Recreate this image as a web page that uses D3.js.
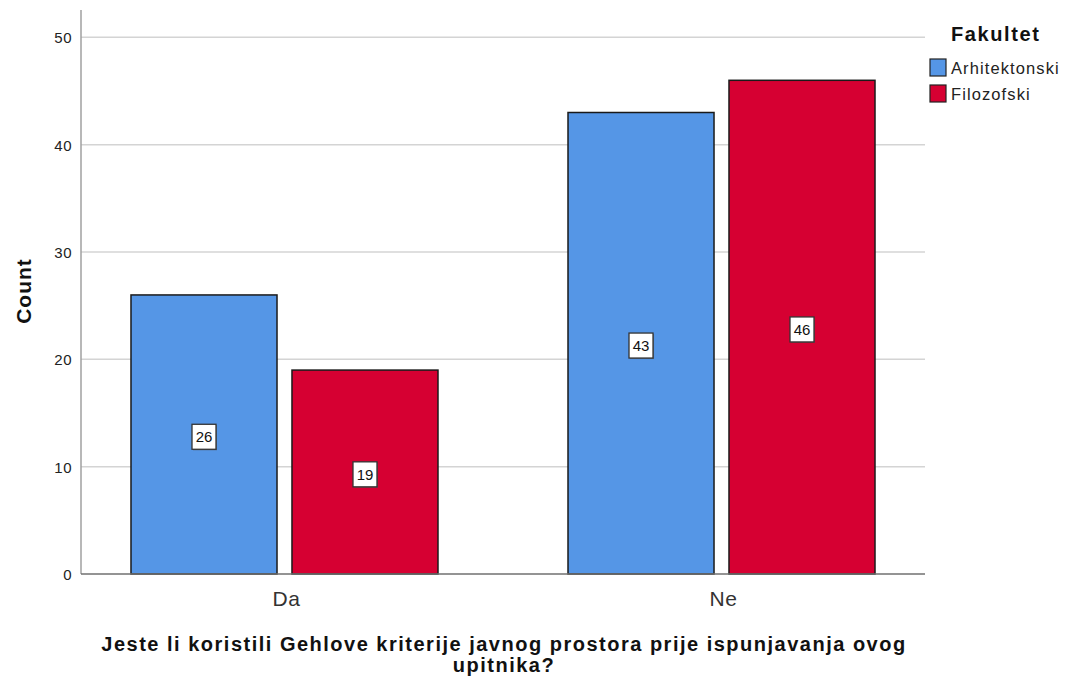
<!DOCTYPE html>
<head>
  <script src="https://d3js.org/d3.v7.min.js"></script>
  <style>
    body { margin: 0; background: white; font-family: Arial, "Liberation Sans", sans-serif; }
    .grid line { stroke: #d4d4d4; stroke-width: 1.5; }
    .tick text { fill: #222; }
  </style>
</head>
<body>
<div class="chart"></div>
<script>
  const categories = ['Da', 'Ne'];
  const faculties = ['Arhitektonski', 'Filozofski'];
  const arhitektonski = [26, 43];
  const filozofski = [19, 46];
  const yTicks = [0, 10, 20, 30, 40, 50];
  const colors = ['#5596e6', '#d60032'];

  const width = 1065, height = 678;
  const plotLeft = 81, plotRight = 925, plotTop = 10, plotBottom = 574;

  const svg = d3.select('.chart').append('svg')
      .attr('width', width)
      .attr('height', height);

  const y = d3.scaleLinear().domain([0, 52.55]).range([plotBottom, plotTop]);

  const x = d3.scaleBand().domain(categories)
      .range([plotLeft, plotRight])
      .paddingInner(0.2975)
      .paddingOuter(0.1144);

  const xInner = d3.scaleBand().domain(faculties)
      .range([0, x.bandwidth()])
      .paddingInner(0.093);

  // gridlines
  svg.append('g').attr('class', 'grid')
      .selectAll('line')
      .data(yTicks.filter(d => d > 0))
      .enter().append('line')
      .attr('x1', plotLeft).attr('x2', plotRight)
      .attr('y1', d => y(d)).attr('y2', d => y(d));

  // y axis
  const yAxis = svg.append('g')
      .attr('transform', `translate(${plotLeft},0)`)
      .call(d3.axisLeft(y).tickValues(yTicks).tickSize(0).tickPadding(9));
  yAxis.select('.domain').remove();
  yAxis.selectAll('text')
      .style('font-family', 'Arial, "Liberation Sans", sans-serif')
      .style('font-size', '15px')
      .style('letter-spacing', '0.5px')
      .attr('dy', '0.36em');

  svg.append('line')
      .attr('x1', plotLeft).attr('x2', plotLeft)
      .attr('y1', plotTop).attr('y2', plotBottom)
      .attr('stroke', '#a0a0a0').attr('stroke-width', 1.5);

  const rows = categories.map((c, i) => ({cat: c, values: [arhitektonski[i], filozofski[i]]}));

  const groups = svg.selectAll('.group')
      .data(rows)
      .enter().append('g')
      .attr('transform', d => `translate(${x(d.cat)},0)`);

  const bars = groups.selectAll('.bar')
      .data(d => d.values.map((v, j) => ({fac: faculties[j], value: v, j: j})))
      .enter().append('g');

  bars.append('rect')
      .attr('x', d => xInner(d.fac))
      .attr('width', xInner.bandwidth())
      .attr('y', d => y(d.value))
      .attr('height', d => plotBottom - y(d.value))
      .attr('fill', d => colors[d.j])
      .attr('stroke', '#1a1a1a')
      .attr('stroke-width', 1.5);

  // value labels
  bars.each(function (d) {
      const g = d3.select(this);
      const cx = xInner(d.fac) + xInner.bandwidth() / 2;
      const cy = (y(d.value) + plotBottom) / 2 + 2.3;
      g.append('rect')
          .attr('x', cx - 11).attr('y', cy - 11.5)
          .attr('width', 24).attr('height', 25)
          .attr('fill', '#555')
          .attr('opacity', 0.6);
      g.append('rect')
          .attr('x', cx - 12).attr('y', cy - 12.5)
          .attr('width', 24).attr('height', 25)
          .attr('fill', 'white')
          .attr('stroke', '#333')
          .attr('stroke-width', 1.3);
      g.append('text')
          .attr('x', cx).attr('y', cy)
          .attr('dy', '0.36em')
          .attr('text-anchor', 'middle')
          .style('font-size', '15px')
          .style('fill', '#111')
          .text(d.value);
  });

  // x axis line
  svg.append('line')
      .attr('x1', plotLeft).attr('x2', plotRight)
      .attr('y1', plotBottom).attr('y2', plotBottom)
      .attr('stroke', '#707070').attr('stroke-width', 1.5);

  svg.selectAll('.xlabel')
      .data(categories)
      .enter().append('text')
      .attr('x', d => x(d) + x.bandwidth() / 2 + 2)
      .attr('y', 606)
      .attr('text-anchor', 'middle')
      .style('font-size', '21px')
      .style('letter-spacing', '0.5px')
      .style('fill', '#333')
      .text(d => d);

  // axis titles
  svg.append('text')
      .attr('transform', 'translate(31,291) rotate(-90)')
      .attr('text-anchor', 'middle')
      .style('font-size', '21px')
      .style('letter-spacing', '1px')
      .style('font-weight', 'bold')
      .style('fill', '#111')
      .text('Count');

  const xTitle = svg.append('text')
      .attr('text-anchor', 'middle')
      .style('font-size', '20px')
      .style('letter-spacing', '1.5px')
      .style('font-weight', 'bold')
      .style('fill', '#111');
  xTitle.append('tspan').attr('x', 504).attr('y', 651)
      .text('Jeste li koristili Gehlove kriterije javnog prostora prije ispunjavanja ovog');
  xTitle.append('tspan').attr('x', 504).attr('y', 672)
      .text('upitnika?');

  // legend
  svg.append('text')
      .attr('x', 951).attr('y', 41)
      .style('font-size', '20px')
      .style('letter-spacing', '1.6px')
      .style('font-weight', 'bold')
      .style('fill', '#111')
      .text('Fakultet');

  const legend = svg.selectAll('.legend')
      .data(faculties)
      .enter().append('g')
      .attr('transform', (d, i) => `translate(930,${59 + i * 26})`);
  legend.append('rect')
      .attr('width', 16).attr('height', 17)
      .attr('fill', (d, i) => colors[i])
      .attr('stroke', '#222').attr('stroke-width', 1.2);
  legend.append('text')
      .attr('x', 21).attr('y', 9)
      .attr('dy', '0.36em')
      .style('font-size', '16.5px')
      .style('letter-spacing', '1.1px')
      .style('fill', '#222')
      .text(d => d);
</script>
</body>
